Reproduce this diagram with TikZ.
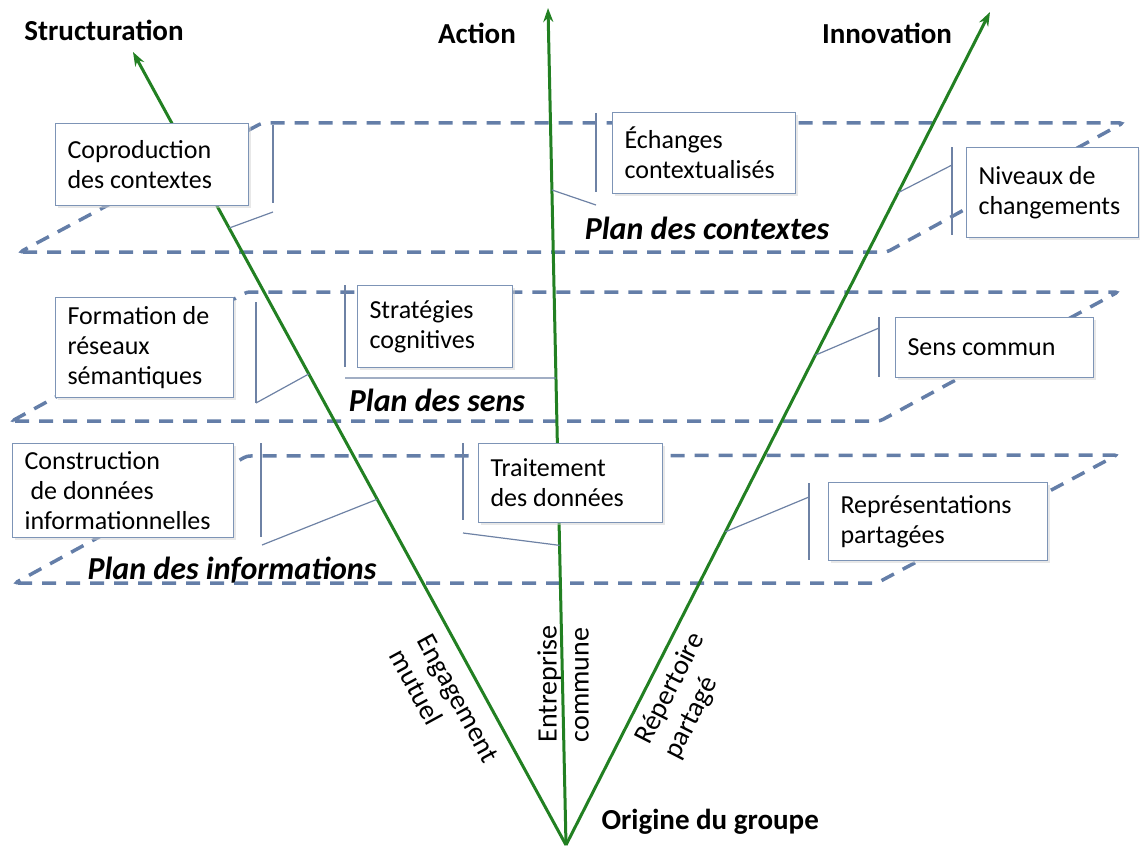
\documentclass[tikz,border=0pt]{standalone}
\usepackage{fontspec}
\setmainfont{Carlito}
\usetikzlibrary{arrows.meta,calc,shadows}
\definecolor{vgreen}{RGB}{34,128,34}
\definecolor{planec}{RGB}{100,126,168}
\definecolor{boxc}{RGB}{125,148,182}
\definecolor{callc}{RGB}{110,130,165}
\tikzset{
  plane/.style={draw=planec, line width=3.5pt, dash pattern=on 14pt off 10pt, rounded corners=3pt},
  axis/.style={draw=vgreen, line width=3pt, -{Stealth[length=14pt,width=10pt]}},
  box/.style={draw=boxc, line width=1.1pt, fill=white, anchor=north west, inner xsep=12pt, inner ysep=0pt,
    align=left, font=\fontsize{26}{30}\selectfont,
    execute at begin node={\spaceskip=0pt\xspaceskip=0pt},
    drop shadow={shadow xshift=2pt,shadow yshift=-2pt,fill=black!18}},
  callout/.style={draw=callc, line width=1.2pt},
  title/.style={font=\bfseries\fontsize{29}{34}\selectfont},
  planelab/.style={font=\bfseries\itshape\fontsize{32}{38}\selectfont},
  axlab/.style={font=\fontsize{28}{32}\selectfont, align=left, inner sep=0pt,
    execute at begin node={\spaceskip=0pt\xspaceskip=0pt}}
}
\begin{document}
\begin{tikzpicture}[x=1pt,y=-1pt]
\useasboundingbox (0,0) rectangle (1140,848);
% planes
\draw[plane] (20,252) -- (887,252) -- (1123,123) -- (262,123) -- cycle;
\draw[plane] (12,421) -- (880,421) -- (1118,292) -- (247,292) -- cycle;
\draw[plane] (15,583) -- (877,583) -- (1117,455) -- (247,456) -- cycle;
% axes
\coordinate (O) at (566,845);
\coordinate (S) at (133,52);
\coordinate (A) at (548,8);
\coordinate (I) at (990,12);
\draw[axis] (O) -- (S);
\draw[axis] (O) -- (A);
\draw[axis] (O) -- (I);
% callout ends on axes
\coordinate (c1) at ($(O)!0.778!(S)$);
\coordinate (c4) at ($(O)!0.594!(S)$);
\coordinate (c7) at ($(O)!0.436!(S)$);
\coordinate (c2) at ($(O)!0.7826!(A)$);
\coordinate (c5) at ($(O)!0.558!(A)$);
\coordinate (c8) at ($(O)!0.358!(A)$);
\coordinate (c3) at ($(O)!0.783!(I)$);
\coordinate (c6) at ($(O)!0.588!(I)$);
\coordinate (c9) at ($(O)!0.376!(I)$);
% callouts
\coordinate (b1t) at (273,125); \coordinate (b1b) at (273,203); \coordinate (b1l) at (273,212);
\draw[callout] (b1t) -- (b1b); \draw[callout] (b1l) -- (c1);
\coordinate (b2t) at (596,113); \coordinate (b2b) at (596,192); \coordinate (b2l) at (596,205);
\draw[callout] (b2t) -- (b2b); \draw[callout] (b2l) -- (c2);
\coordinate (b3t) at (952,147); \coordinate (b3b) at (952,235); \coordinate (b3l) at (952,165);
\draw[callout] (b3t) -- (b3b); \draw[callout] (b3l) -- (c3);
\coordinate (b4t) at (256,302); \coordinate (b4b) at (256,403);
\draw[callout] (b4t) -- (b4b); \draw[callout] (b4b) -- (c4);
\coordinate (b5t) at (345,285); \coordinate (b5b) at (345,367); \coordinate (b5l) at (345,378);
\draw[callout] (b5t) -- (b5b); \draw[callout] (b5l) -- (c5);
\coordinate (b6t) at (879,317); \coordinate (b6b) at (879,377); \coordinate (b6l) at (879,328);
\draw[callout] (b6t) -- (b6b); \draw[callout] (b6l) -- (c6);
\coordinate (b7t) at (261,443); \coordinate (b7b) at (261,537); \coordinate (b7l) at (262,545);
\draw[callout] (b7t) -- (b7b); \draw[callout] (b7l) -- (c7);
\coordinate (b8t) at (463,443); \coordinate (b8b) at (463,520); \coordinate (b8l) at (463,533);
\draw[callout] (b8t) -- (b8b); \draw[callout] (b8l) -- (c8);
\coordinate (b9t) at (809,483); \coordinate (b9b) at (809,560); \coordinate (b9l) at (809,497);
\draw[callout] (b9t) -- (b9b); \draw[callout] (b9l) -- (c9);
% boxes
\node[box, minimum width=193pt, minimum height=82pt, text width=169pt] (cop) at (55,123) {Coproduction\\des contextes};
\node[box, minimum width=183pt, minimum height=81pt, text width=159pt] (ech) at (612,112) {Échanges\\contextualisés};
\node[box, minimum width=172pt, minimum height=90pt, text width=148pt] (niv) at (966,147) {Niveaux de\\changements};
\node[box, minimum width=178pt, minimum height=100pt, text width=154pt] (frm) at (55,297) {Formation de\\réseaux\\sémantiques};
\node[box, minimum width=155pt, minimum height=82pt, text width=131pt] (str) at (357,285) {Stratégies\\cognitives};
\node[box, minimum width=198pt, minimum height=60pt, text width=174pt] (sen) at (895,317) {Sens commun};
\node[box, minimum width=221pt, minimum height=94pt, text width=197pt] (con) at (12,443) {Construction\\\hspace*{6pt}de données\\informationnelles};
\node[box, minimum width=184pt, minimum height=79pt, text width=160pt] (tra) at (478,443) {Traitement\\des données};
\node[box, minimum width=219pt, minimum height=78pt, text width=195pt] (rep) at (828,482) {Représentations\\partagées};
% titles
\node[title] (st) at (104,30) {Structuration};
\node[title] (ac) at (477,33) {Action};
\node[title] (in) at (887,33) {Innovation};
\node[title, anchor=west] (og) at (598,822) {Origine du groupe};
% plane labels
\node[planelab] (pc) at (707,228) {Plan des contextes};
\node[planelab] (ps) at (437,400) {Plan des sens};
\node[planelab] (pi) at (232,570) {Plan des informations};
% axis labels
\node[axlab, rotate=-61.4] (em) at (444,706) {Engagement\\mutuel};
\node[axlab, rotate=90] (ec) at (563,684) {Entreprise\\commune};
\node[axlab, rotate=63] (rp) at (685,696) {Répertoire\\partagé};
\end{tikzpicture}
\end{document}
